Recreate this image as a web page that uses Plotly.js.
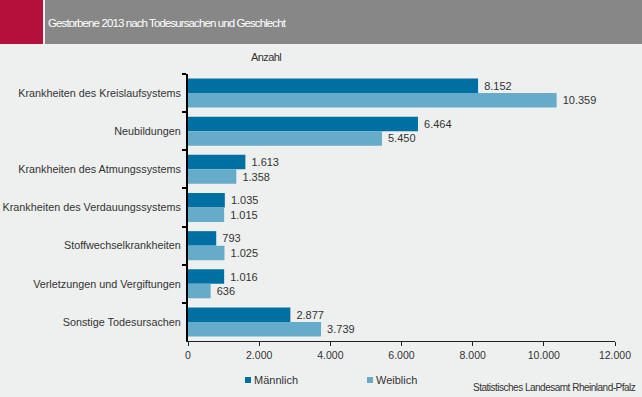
<!DOCTYPE html>
<html>
<head>
<meta charset="utf-8">
<script src="https://cdn.plot.ly/plotly-3.0.1.min.js"></script>
<style>
  html, body { margin: 0; padding: 0; background: #eef0ef; }
  #chart { width: 642px; height: 397px; }
</style>
</head>
<body>
<div id="chart"></div>
<script>
// ---- data ----
const categories = [
  "Krankheiten des Kreislaufsystems",
  "Neubildungen",
  "Krankheiten des Atmungssystems",
  "Krankheiten des Verdauungssystems",
  "Stoffwechselkrankheiten",
  "Verletzungen und Vergiftungen",
  "Sonstige Todesursachen"
];
const maennlich = [8152, 6464, 1613, 1035, 793, 1016, 2877];
const weiblich  = [10359, 5450, 1358, 1015, 1025, 636, 3739];
const seriesNames = ["Männlich", "Weiblich"];
const xTicks = [0, 2000, 4000, 6000, 8000, 10000, 12000];
const chartTitle = "Gestorbene 2013 nach Todesursachen und Geschlecht";
const unitLabel = "Anzahl";
const sourceLabel = "Statistisches Landesamt Rheinland-Pfalz";

// ---- layout geometry ----
const W = 642, H = 397;
const M = {l: 188, r: 27, t: 74, b: 56};
const PW = W - M.l - M.r, PH = H - M.t - M.b;
const px = v => (v - M.l) / PW;         // pixel x -> paper x
const py = v => (H - M.b - v) / PH;      // pixel y -> paper y

const colors = ["#0070a3", "#66abc9"];
const font = "Liberation Sans, Arial, sans-serif";
const tight = (s, ls) => '<span style="letter-spacing:' + ls + 'px">' + s + '</span>';

const traces = [maennlich, weiblich].map((vals, i) => ({
  type: "bar",
  orientation: "h",
  name: seriesNames[i],
  y: categories,
  x: vals,
  marker: {color: colors[i]},
  texttemplate: "\u00a0%{x:,}",
  textposition: "outside",
  cliponaxis: false,
  textfont: {family: font, size: 11, color: "#333333"},
  hoverinfo: "none"
}));

const shapes = [
  {type: "rect", xref: "paper", yref: "paper", x0: px(0), x1: px(43), y0: py(44), y1: py(0),
   fillcolor: "#b5103c", line: {width: 0}, layer: "below"},
  {type: "rect", xref: "paper", yref: "paper", x0: px(45), x1: px(642), y0: py(44), y1: py(0),
   fillcolor: "#878787", line: {width: 0}, layer: "below"},
  {type: "rect", xref: "paper", yref: "paper", x0: px(245), x1: px(251), y0: py(383), y1: py(377),
   fillcolor: colors[0], line: {width: 0}},
  {type: "rect", xref: "paper", yref: "paper", x0: px(367), x1: px(373), y0: py(383), y1: py(377),
   fillcolor: colors[1], line: {width: 0}}
];

const annotations = [
  {text: tight(chartTitle, -0.9), xref: "paper", yref: "paper", x: px(46), y: py(23), xanchor: "left", yanchor: "middle",
   showarrow: false, font: {family: font, size: 11.5, color: "#ffffff"}},
  {text: tight(unitLabel, -0.6), xref: "paper", yref: "paper", x: px(266), y: py(57), xanchor: "center", yanchor: "middle",
   showarrow: false, font: {family: font, size: 11, color: "#333333"}},
  {text: seriesNames[0], xref: "paper", yref: "paper", x: px(252), y: py(380), xanchor: "left", yanchor: "middle",
   showarrow: false, font: {family: font, size: 11, color: "#333333"}},
  {text: seriesNames[1], xref: "paper", yref: "paper", x: px(374), y: py(380), xanchor: "left", yanchor: "middle",
   showarrow: false, font: {family: font, size: 11, color: "#333333"}},
  {text: tight(sourceLabel, -0.5), xref: "paper", yref: "paper", x: px(638), y: py(387), xanchor: "right", yanchor: "middle",
   showarrow: false, font: {family: font, size: 10, color: "#333333"}}
];

const layout = {
  width: W, height: H,
  margin: M,
  paper_bgcolor: "#eef0ef",
  plot_bgcolor: "#eef0ef",
  separators: ",.",
  showlegend: false,
  barmode: "group",
  bargap: 0.24,
  bargroupgap: 0,
  font: {family: font, size: 11, color: "#333333"},
  hovermode: false,
  xaxis: {
    range: [0, 12000],
    tickvals: xTicks,
    tickformat: ",",
    showgrid: false,
    zeroline: false,
    showline: true,
    linecolor: "#222222",
    linewidth: 1,
    ticks: "outside",
    ticklen: 4,
    tickcolor: "#222222",
    tickfont: {family: font, size: 10.5, color: "#333333"},
    fixedrange: true
  },
  yaxis: {
    type: "category",
    autorange: "reversed",
    showgrid: false,
    zeroline: false,
    showline: true,
    linecolor: "#000000",
    linewidth: 2,
    ticks: "outside",
    tickson: "boundaries",
    ticklen: 4,
    tickwidth: 2,
    tickcolor: "#000000",
    ticklabelstandoff: 3,
    tickfont: {family: font, size: 10.8, color: "#333333"},
    fixedrange: true
  },
  shapes: shapes,
  annotations: annotations
};

Plotly.newPlot("chart", traces, layout, {displayModeBar: false, staticPlot: true});
</script>
</body>
</html>
